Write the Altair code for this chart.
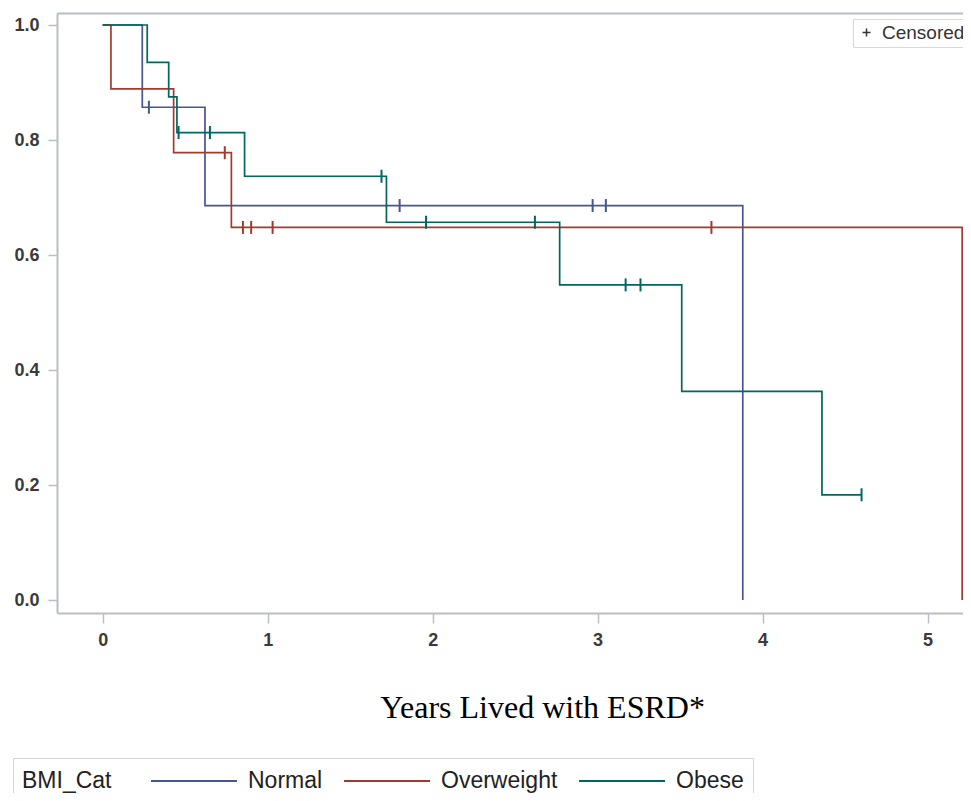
import altair as alt
import pandas as pd

# ---------------- data ----------------
groups = ["Normal", "Overweight", "Obese"]
colors = ["#445694", "#A23A2E", "#01665E"]

# Kaplan-Meier step points (time in years, survival probability)
normal_t = [0.0, 0.24, 0.62, 3.88]
normal_s = [1.0, 0.857, 0.686, 0.0]
over_t = [0.0, 0.05, 0.43, 0.78, 5.21]
over_s = [1.0, 0.889, 0.778, 0.648, 0.0]
obese_t = [0.0, 0.27, 0.40, 0.45, 0.86, 1.72, 2.77, 3.51, 4.36, 4.60]
obese_s = [1.0, 0.935, 0.875, 0.813, 0.737, 0.657, 0.548, 0.363, 0.183, 0.183]

# censored observations
normal_ct = [0.28, 1.80, 2.97, 3.05]
normal_cs = [0.857, 0.686, 0.686, 0.686]
over_ct = [0.74, 0.85, 0.90, 1.03, 3.69]
over_cs = [0.778, 0.648, 0.648, 0.648, 0.648]
obese_ct = [0.46, 0.65, 1.69, 1.96, 2.62, 3.17, 3.26, 4.60]
obese_cs = [0.813, 0.813, 0.737, 0.657, 0.657, 0.548, 0.548, 0.183]

x_ticks = [0, 1, 2, 3, 4, 5]
y_ticks = [0.0, 0.2, 0.4, 0.6, 0.8, 1.0]
x_title = "Years Lived with ESRD*"
legend_title = "BMI_Cat"
censor_label = "Censored"

# ---------------- tables ----------------
line_rows = []
for g, ts, ss in zip(groups, [normal_t, over_t, obese_t], [normal_s, over_s, obese_s]):
    for i, (t, s) in enumerate(zip(ts, ss)):
        line_rows.append({"grp": g, "t": t, "s": s, "i": i})
df_lines = pd.DataFrame(line_rows)

cens_rows = []
for g, ts, ss in zip(groups, [normal_ct, over_ct, obese_ct], [normal_cs, over_cs, obese_cs]):
    for t, s in zip(ts, ss):
        cens_rows.append({"grp": g, "t": t, "s": s, "kind": censor_label})
df_cens = pd.DataFrame(cens_rows)

# ---------------- styling ----------------
AXC = "#b9bfc3"
SANS = "Liberation Sans, Arial, sans-serif"
xscale = alt.Scale(domain=[-0.277, 5.215], nice=False, zero=False)
yscale = alt.Scale(domain=[-0.0226, 1.0209], nice=False, zero=False)
cscale = alt.Scale(domain=groups, range=colors)

x_axis = alt.Axis(
    values=x_ticks, format="d", grid=False,
    domainColor=AXC, domainWidth=2, tickColor=AXC, tickWidth=1.5, tickSize=10,
    labelFont=SANS, labelFontSize=18, labelFontWeight="bold", labelColor="#3a3a3a",
    labelPadding=8, labelFlush=False,
    title=x_title, titleFont="Liberation Serif, Times New Roman, serif",
    titleFontSize=32, titleFontWeight="normal", titleColor="#000",
    titleX=485, titleY=104, titleAlign="center", titleBaseline="alphabetic",
)
y_axis = alt.Axis(
    values=y_ticks, format=".1f", grid=False, title=None,
    domainColor=AXC, domainWidth=2, tickColor=AXC, tickWidth=1.5, tickSize=9,
    labelFont=SANS, labelFontSize=18, labelFontWeight="bold", labelColor="#3a3a3a",
    labelPadding=9, labelFlush=False,
)
top_axis = alt.Axis(orient="top", labels=False, ticks=False, grid=False, title=None,
                    domainColor=AXC, domainWidth=2)

color_legend = alt.Legend(
    orient="none", legendX=-44, legendY=745, direction="horizontal",
    title=legend_title, titleOrient="left", titleFont=SANS, titleFontSize=23,
    titleFontWeight="normal", titleColor="#222", titlePadding=38,
    titleBaseline="middle",
    labelFont=SANS, labelFontSize=23, labelColor="#222", labelOffset=10,
    symbolType="stroke", symbolSize=7396, symbolStrokeWidth=2,
    columnPadding=20, padding=9, strokeColor="#d4d4d4", clipHeight=28,
)

censor_legend = alt.Legend(
    orient="none", legendX=796, legendY=6, title=None,
    labelFont=SANS, labelFontSize=19, labelColor="#333", labelOffset=6,
    symbolType="M-1,0L1,0M0,-1L0,1", symbolSize=64, symbolStrokeWidth=1.5,
    symbolStrokeColor="#333", symbolFillColor="transparent",
    padding=4, strokeColor="#d8d8d8",
)

lines = alt.Chart(df_lines).mark_line(interpolate="step-after", strokeWidth=1.7).encode(
    x=alt.X("t:Q", scale=xscale, axis=x_axis),
    y=alt.Y("s:Q", scale=yscale, axis=y_axis),
    color=alt.Color("grp:N", scale=cscale, sort=groups, legend=color_legend),
    order=alt.Order("i:Q"),
)

cens = alt.Chart(df_cens).mark_point(
    shape="M0,-1L0,1", filled=False, size=169, strokeWidth=2
).encode(
    x=alt.X("t:Q", scale=xscale, axis=top_axis),
    y=alt.Y("s:Q", scale=yscale),
    color=alt.Color("grp:N", scale=cscale, sort=groups, legend=None),
    opacity=alt.Opacity("kind:N", scale=alt.Scale(range=[1]), legend=censor_legend),
)

chart = (
    alt.layer(lines, cens)
    .resolve_axis(x="independent")
    .resolve_legend(color="independent")
    .properties(
        width=906, height=600,
        padding={"left": 49, "top": 5, "right": 0, "bottom": 180},
        autosize=alt.AutoSizeParams(type="none"),
        background="white",
    )
    .configure_view(stroke=None)
)

chart.save("out.html", embed_options={"renderer": "svg", "actions": False})
